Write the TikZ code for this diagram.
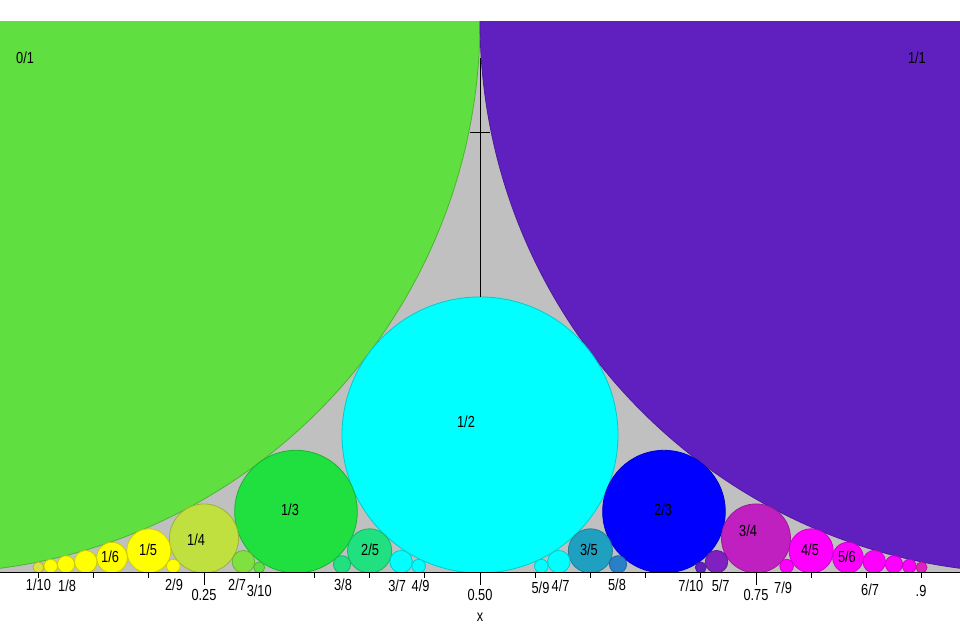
\documentclass[tikz,border=0pt]{standalone}
\usepackage{fontspec}
\setmainfont[FakeStretch=0.8]{Liberation Sans}

\definecolor{fordbg}{RGB}{192,192,192}
\definecolor{ford01}{RGB}{96,224,64}
\definecolor{ford11}{RGB}{96,32,192}
\definecolor{ford12}{RGB}{0,255,255}
\definecolor{ford13}{RGB}{32,224,64}
\definecolor{ford23}{RGB}{0,0,255}
\definecolor{ford14}{RGB}{192,224,64}
\definecolor{ford34}{RGB}{192,32,192}
\definecolor{ford15}{RGB}{255,255,0}
\definecolor{ford45}{RGB}{255,0,255}
\definecolor{ford25}{RGB}{32,224,128}
\definecolor{ford35}{RGB}{32,160,192}
\definecolor{ford27}{RGB}{128,224,64}
\definecolor{ford57}{RGB}{128,32,192}
\definecolor{ford58}{RGB}{40,128,200}
\definecolor{ford110}{RGB}{224,224,64}
\definecolor{ford910}{RGB}{224,32,192}

\begin{document}
\begin{tikzpicture}[x=29.1cm, y=29.1cm,
                    lbl/.style={font=\fontsize{12}{14}\selectfont, inner sep=0pt},
                    disc/.style={line width=0.6pt}]
  \useasboundingbox (0.0652,-0.0462) rectangle (0.9348,0.5190);
  % Fordo apskritimai
  \begin{scope}
    \clip (0.0652,0) rectangle (0.9348,0.4991);
    \fill[fordbg] (0.0652,0) rectangle (0.9348,0.4991);
    \foreach \p/\q/\col in {0/1/ford01, 1/1/ford11, 1/2/ford12, 1/3/ford13, 2/3/ford23,
        1/4/ford14, 3/4/ford34, 1/5/ford15, 2/5/ford25, 3/5/ford35, 4/5/ford45,
        1/6/ford15, 5/6/ford45, 1/7/ford15, 2/7/ford27, 3/7/ford12, 4/7/ford12,
        5/7/ford57, 6/7/ford45, 1/8/ford15, 3/8/ford25, 5/8/ford58, 7/8/ford45,
        1/9/ford15, 2/9/ford15, 4/9/ford12, 5/9/ford12, 7/9/ford45, 8/9/ford45,
        1/10/ford110, 3/10/ford01, 7/10/ford11, 9/10/ford910}
      \filldraw[disc, fill=\col, draw=\col!80!black]
        ({\p/\q},{1/(2*\q*\q)}) circle ({1/(2*\q*\q)});
  \end{scope}
  % vertikali linija
  \coordinate (vtop) at (0.5,0.4665);
  \coordinate (vbot) at (0.5,0.25);
  \coordinate (hl) at (0.491,0.3986);
  \coordinate (hr) at (0.509,0.3986);
  \draw[line width=0.7pt] (vtop) -- (vbot);
  \draw[line width=0.7pt] (hl) -- (hr);
  % x ašis
  \coordinate (axl) at (0.0652,0);
  \coordinate (axr) at (0.9348,0);
  \draw[line width=0.7pt] (axl) -- (axr);
  \foreach \t in {0.1,0.15,0.2,0.3,0.35,0.4,0.45,0.55,0.6,0.65,0.7,0.8,0.85,0.9}
    \draw[line width=0.7pt] (\t,0) -- (\t,-0.0045);
  \foreach \t in {0.25,0.5,0.75}
    \draw[line width=0.7pt] (\t,0) -- (\t,-0.0105);
  % žymės apskritimuose
  \node[lbl] (n01) at (0.0879,0.4665) {0/1};
  \node[lbl] (n11) at (0.8958,0.4665) {1/1};
  \node[lbl] (n12) at (0.4873,0.1368) {1/2};
  \node[lbl] (n13) at (0.3279,0.0571) {1/3};
  \node[lbl] (n23) at (0.6658,0.0571) {2/3};
  \node[lbl] (n14) at (0.2428,0.0299) {1/4};
  \node[lbl] (n34) at (0.7428,0.0380) {3/4};
  \node[lbl] (n15) at (0.1993,0.0208) {1/5};
  \node[lbl] (n25) at (0.4004,0.0208) {2/5};
  \node[lbl] (n35) at (0.5987,0.0208) {3/5};
  \node[lbl] (n45) at (0.7989,0.0208) {4/5};
  \node[lbl] (n16) at (0.1649,0.0145) {1/6};
  \node[lbl] (n56) at (0.8324,0.0145) {5/6};
  % žymės po ašimi
  \node[lbl] (a110) at (0.1000,-0.0109) {1/10};
  \node[lbl] (a18)  at (0.1260,-0.0118) {1/8};
  \node[lbl] (a29)  at (0.2228,-0.0109) {2/9};
  \node[lbl] (a25)  at (0.2500,-0.0199) {0.25};
  \node[lbl] (a27)  at (0.2800,-0.0109) {2/7};
  \node[lbl] (a310) at (0.3000,-0.0163) {3/10};
  \node[lbl] (a38)  at (0.3759,-0.0109) {3/8};
  \node[lbl] (a37)  at (0.4250,-0.0118) {3/7};
  \node[lbl] (a49)  at (0.4462,-0.0118) {4/9};
  \node[lbl] (a50)  at (0.5000,-0.0199) {0.50};
  \node[lbl] (a59)  at (0.5548,-0.0136) {5/9};
  \node[lbl] (a47)  at (0.5730,-0.0118) {4/7};
  \node[lbl] (a58)  at (0.6241,-0.0109) {5/8};
  \node[lbl] (a710) at (0.6910,-0.0118) {7/10};
  \node[lbl] (a57)  at (0.7180,-0.0118) {5/7};
  \node[lbl] (a75)  at (0.7500,-0.0199) {0.75};
  \node[lbl] (a79)  at (0.7745,-0.0136) {7/9};
  \node[lbl] (a67)  at (0.8533,-0.0154) {6/7};
  \node[lbl] (a9)   at (0.8995,-0.0163) {.9};
  \node[lbl] (xlab) at (0.5000,-0.0405) {x};
\end{tikzpicture}
\end{document}
